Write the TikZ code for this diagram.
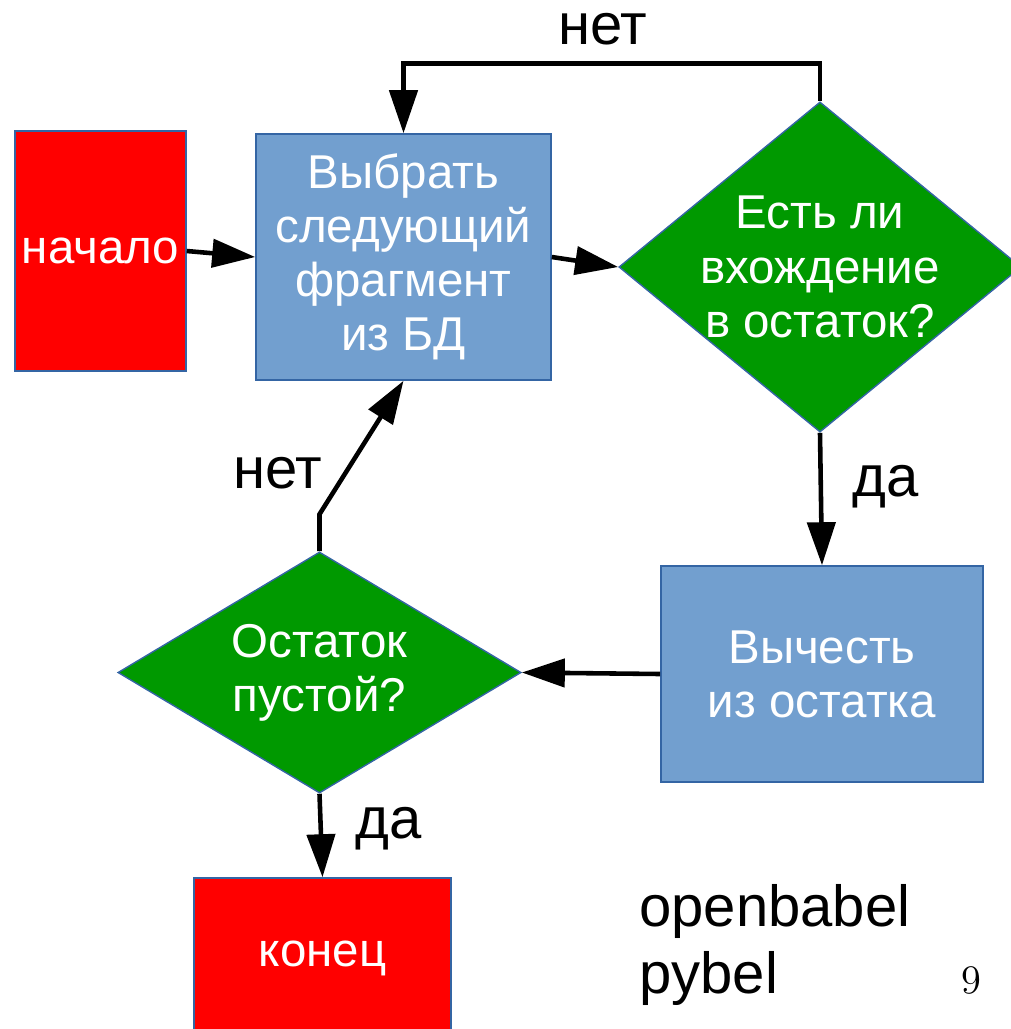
\documentclass[tikz,border=0pt]{standalone}
\usepackage{fontspec}
\newfontfamily\arialfont{Liberation Sans}
\usetikzlibrary{arrows.meta,shapes.geometric}
\definecolor{boxblue}{HTML}{729FCF}
\definecolor{edgeblue}{HTML}{3465A4}
\definecolor{dgreen}{HTML}{009900}
\tikzset{%
  >={Triangle[width=2.8mm,length=4.3mm]},
  % Specifications for style of nodes:
            base/.style = {rectangle, draw=edgeblue, line width=0.4pt,
                           inner sep=0pt, align=center, text=white,
                           font=\arialfont\fontsize{13.5}{15.4}\selectfont},
		termstyle/.style = {base, fill=red},
		procstyle/.style = {base, fill=boxblue},
		decstyle/.style = {base, diamond, fill=dgreen, inner sep=-8pt},
		labelstyle/.style = {anchor=base, inner sep=0pt,
                           font=\arialfont\fontsize{16.5}{18.8}\selectfont},
}

\begin{document}
\begin{tikzpicture}[x=0.01cm, y=-0.01cm, line width=1.3pt]
  \useasboundingbox (0,0) rectangle (1011,1029);
  % Specification of nodes (position, etc.)
  \node (start)    [termstyle, minimum width=1.71cm, minimum height=2.4cm]
                   at (100.5,251)  {начало};
  \node (select)   [procstyle, minimum width=2.95cm, minimum height=2.46cm]
                   at (403.5,257)  {Выбрать\\следующий\\фрагмент\\из БД};
  \node (found)    [decstyle, minimum width=4.02cm, minimum height=3.3cm]
                   at (820,267)    {Есть ли\\вхождение\\в остаток?};
  \node (subtract) [procstyle, minimum width=3.22cm, minimum height=2.16cm]
                   at (822,674)    {Вычесть\\из остатка};
  \node (empty)    [decstyle, minimum width=4.03cm, minimum height=2.41cm]
                   at (319.5,672.5) {Остаток\\пустой?};
  \node (finish)   [termstyle, minimum width=2.57cm, minimum height=1.6cm]
                   at (322.5,958)  {конец};

  % labels on the branches
  \node (no1)  [labelstyle] at (603,44)    {нет};
  \node (yes1) [labelstyle] at (886,496)   {да};
  \node (no2)  [labelstyle] at (277.5,488) {нет};
  \node (yes2) [labelstyle] at (388.5,838) {да};
  \node (tools) [labelstyle, anchor=west, align=left] at (637,945)
                {openbabel\\pybel};
  \node (page) [anchor=base, inner sep=0pt, font=\fontsize{11.5}{13}\selectfont]
               at (971.5,993) {9};

  % Specification of lines between nodes specified above
	\draw[->]	(start.east) -- 		(select.west);
	\draw[->]	(select.east) -- 		(found.west);
	\draw[->]	(found.north) -- ++(0,-38) -| 	(select.north);
	\draw[->]	(found.south) -- 		(subtract.north);
	\draw[->]	(subtract.west) -- 		(empty.east);
	\draw[->]	(empty.north) -- ++(0,-37) -- 	(select.south);
	\draw[->]	(empty.south) -- 		(finish.north);
\end{tikzpicture}
\end{document}
